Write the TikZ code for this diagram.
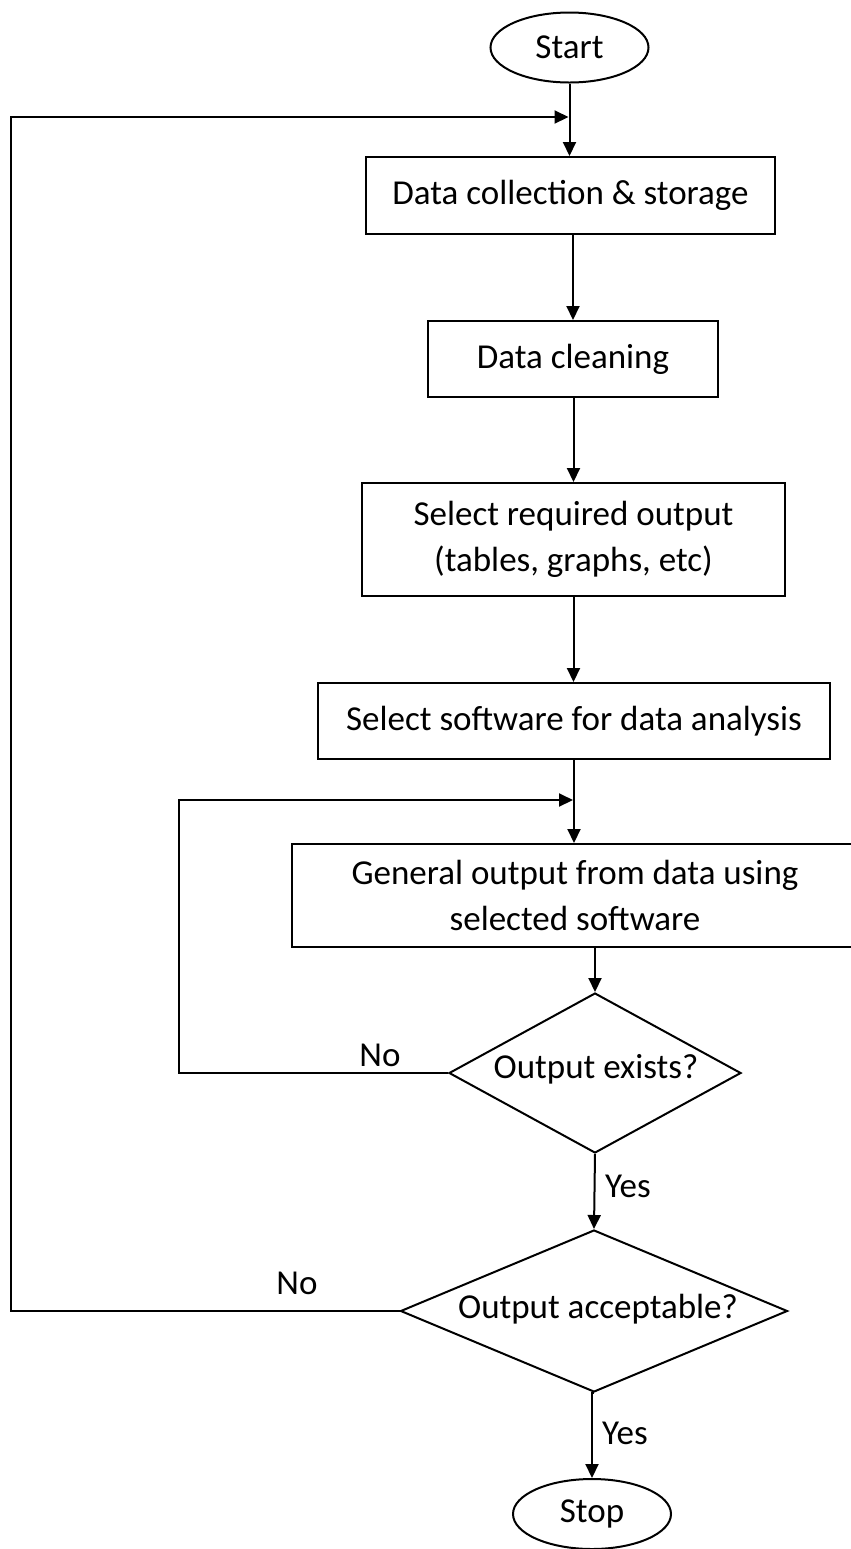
\documentclass[tikz,border=0pt]{standalone}
\usepackage{fontspec}
\setmainfont{Carlito}
\usetikzlibrary{arrows.meta,shapes.geometric}
\begin{document}
\begin{tikzpicture}[x=0.5pt,y=-0.5pt,
  every node/.style={font=\fontsize{17.5}{23}\selectfont},
  box/.style={draw, line width=1pt, rectangle, inner sep=0pt, align=center},
  term/.style={draw, line width=1pt, ellipse, inner sep=0pt, minimum width=79pt, minimum height=35pt},
  dia/.style={draw, line width=1pt, diamond, inner sep=0pt},
  conn/.style={line width=1pt, -{Triangle[length=7pt,width=6.5pt]}},
  wire/.style={line width=1pt}]
\useasboundingbox (0,0) rectangle (851,1549);
% nodes
\node[term] (start) at (569.5,47.5) {Start};
\node[box, minimum width=204.5pt, minimum height=38.5pt] (b1) at (570.5,195.5) {Data collection \& storage};
\node[box, minimum width=145pt, minimum height=38pt] (b2) at (573,359) {Data cleaning};
\node[box, minimum width=211.5pt, minimum height=56.5pt] (b3) at (573.5,539.5) {Select required output\\(tables, graphs, etc)};
\node[box, minimum width=256pt, minimum height=38pt] (b4) at (574,721) {Select software for data analysis};
\node[box, minimum width=283pt, minimum height=51.5pt] (b5) at (575,895.5) {General output from data using\\selected software};
\node[dia, minimum width=146pt, minimum height=80pt] (d1) at (595,1073) {};
\node (t1) at (596,1069) {Output exists?};
\node[dia, minimum width=193.5pt, minimum height=81pt] (d2) at (594,1311) {};
\node (t2) at (598,1309) {Output acceptable?};
\node[term] (stop) at (592,1514) {Stop};
% labels
\node (no1) at (380,1055) {No};
\node (yes1) at (628,1186) {Yes};
\node (no2) at (297,1283) {No};
\node (yes2) at (625,1433) {Yes};
% coordinates
\coordinate (c1) at (11,117);
\coordinate (j1) at (568.5,117);
\coordinate (c2) at (179,800);
\coordinate (j2) at (573,800);
% connectors
\draw[conn] (start.south) -- (start.south |- b1.north);
\draw[conn] (b2.north |- b1.south) -- (b2.north);
\draw[conn] (b3.north |- b2.south) -- (b3.north);
\draw[conn] (b3.south) -- (b3.south |- b4.north);
\draw[conn] (b4.south) -- (b4.south |- b5.north);
\draw[conn] (d1.north |- b5.south) -- (d1.north);
\draw[conn] (d1.south) -- (d2.north);
\draw[conn] (d2.south) -- (d2.south -| stop.north) -- (stop.north);
\draw[conn] (d1.west) -| (c2) -- (j2);
\draw[conn] (d2.west) -| (c1) -- (j1);
\end{tikzpicture}
\end{document}
